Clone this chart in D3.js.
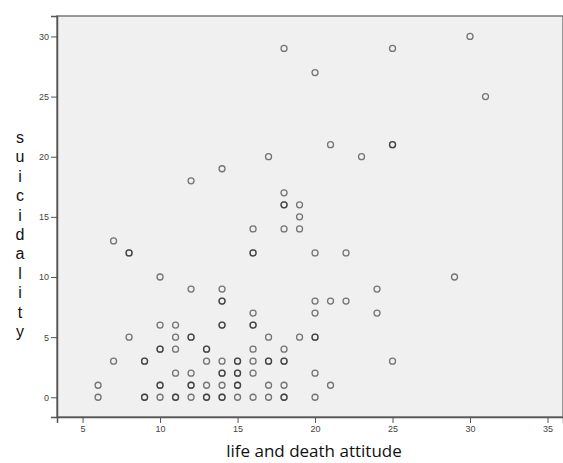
<!DOCTYPE html>
<html>
<head>
<meta charset="utf-8">
<script src="https://cdn.jsdelivr.net/npm/d3@7"></script>
<style>
  body { margin: 0; background: #fff; }
  svg { display: block; }
</style>
</head>
<body>
<div id="chart"></div>
<script>
// life and death attitude (x) vs suicidality (y), one entry per case
const attitude = [
  6, 9, 9, 10, 11, 11, 12, 13, 13, 14, 14, 15, 16, 17, 18, 18, 20,
  6, 10, 10, 12, 12, 13, 14, 15, 15, 17, 18, 21,
  11, 12, 14, 14, 15, 15, 16, 20,
  7, 9, 9, 13, 14, 15, 15, 16, 17, 17, 18, 18, 25,
  10, 10, 11, 13, 13, 16, 18,
  8, 11, 12, 12, 17, 19, 20, 20,
  10, 11, 14, 14, 16, 16,
  16, 20, 24,
  14, 14, 20, 21, 22,
  12, 14, 24,
  10, 29,
  8, 8, 16, 16, 20, 22,
  7,
  16, 18, 19,
  19,
  18, 18, 19,
  18,
  12,
  14,
  17, 23,
  21, 25, 25,
  31,
  20,
  18, 25,
  30
];
const suicidality = [
  0, 0, 0, 0, 0, 0, 0, 0, 0, 0, 0, 0, 0, 0, 0, 0, 0,
  1, 1, 1, 1, 1, 1, 1, 1, 1, 1, 1, 1,
  2, 2, 2, 2, 2, 2, 2, 2,
  3, 3, 3, 3, 3, 3, 3, 3, 3, 3, 3, 3, 3,
  4, 4, 4, 4, 4, 4, 4,
  5, 5, 5, 5, 5, 5, 5, 5,
  6, 6, 6, 6, 6, 6,
  7, 7, 7,
  8, 8, 8, 8, 8,
  9, 9, 9,
  10, 10,
  12, 12, 12, 12, 12, 12,
  13,
  14, 14, 14,
  15,
  16, 16, 16,
  17,
  18,
  19,
  20, 20,
  21, 21, 21,
  25,
  27,
  29, 29,
  30
];
const xTicks = [5, 10, 15, 20, 25, 30, 35];
const yTicks = [0, 5, 10, 15, 20, 25, 30];
const xTitle = 'life and death attitude';
const yTitle = 'suicidality';

const width = 563, height = 463;
const margin = {top: 16, right: 0, bottom: 46, left: 57};
const innerW = width - margin.left - margin.right;
const innerH = height - margin.top - margin.bottom;

const svg = d3.select('#chart').append('svg')
  .attr('width', width)
  .attr('height', height);

const x = d3.scaleLinear().domain([3.35, 36.0]).range([0, innerW]);
const y = d3.scaleLinear().domain([-1.64, 31.7]).range([innerH, 0]);

const g = svg.append('g')
  .attr('transform', 'translate(' + margin.left + ',' + margin.top + ')');

g.append('rect')
  .attr('width', innerW)
  .attr('height', innerH)
  .attr('fill', '#f0f0f0')
  .attr('stroke', '#7a7a7a')
  .attr('stroke-width', 1.5);

let xAxis = d3.axisBottom(x).tickValues(xTicks).tickSize(6).tickPadding(3);
let yAxis = d3.axisLeft(y).tickValues(yTicks).tickSize(6).tickPadding(2);

let gx = g.append('g')
  .attr('transform', 'translate(0,' + innerH + ')')
  .call(xAxis);
let gy = g.append('g').call(yAxis);

[gx, gy].forEach(function (ax) {
  ax.select('.domain').attr('stroke', '#555').attr('stroke-width', 1.5);
  ax.selectAll('.tick line').attr('stroke', '#555');
  ax.selectAll('.tick text')
    .attr('fill', '#444')
    .style('font-family', 'Liberation Sans, Arial, sans-serif')
    .style('font-size', '9px');
});

const points = attitude.map(function (d, i) {
  return {a: d, s: suicidality[i]};
});

g.append('g').selectAll('circle')
  .data(points)
  .join('circle')
  .attr('cx', d => x(d.a))
  .attr('cy', d => y(d.s))
  .attr('r', 3)
  .attr('fill', 'none')
  .attr('stroke', '#222')
  .attr('stroke-opacity', 0.6)
  .attr('stroke-width', 1.3);

svg.append('text')
  .attr('x', 314)
  .attr('y', 457)
  .attr('text-anchor', 'middle')
  .attr('fill', '#111')
  .style('font-family', 'Open Sans, Noto Sans, sans-serif')
  .style('font-size', '17px')
  .text(xTitle);

// vertical, one letter per line
svg.append('g').selectAll('text')
  .data(yTitle.split(''))
  .join('text')
  .attr('x', 20)
  .attr('y', (d, i) => 143 + i * 19.4)
  .attr('text-anchor', 'middle')
  .attr('fill', '#111')
  .style('font-family', 'Liberation Sans, Arial, sans-serif')
  .style('font-size', '16px')
  .text(d => d);
</script>
</body>
</html>
